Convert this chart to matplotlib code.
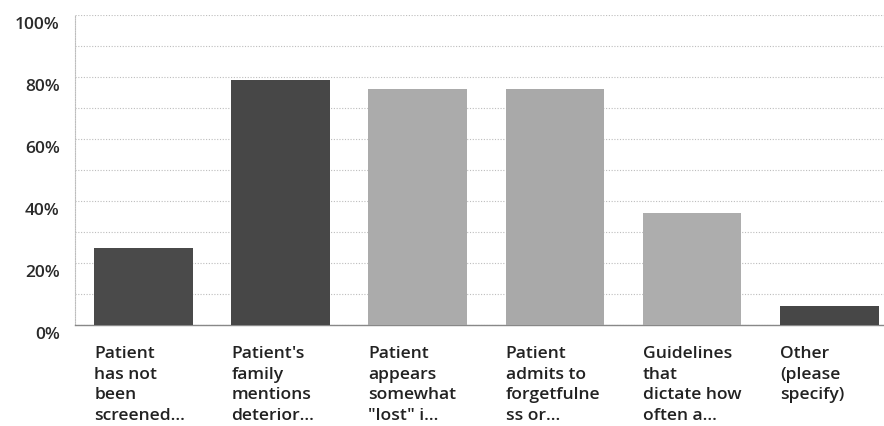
import matplotlib
matplotlib.use("Agg")
import matplotlib.pyplot as plt
import matplotlib.transforms as mtransforms
from matplotlib.ticker import MultipleLocator, PercentFormatter

categories = [
    "Patient\nhas not\nbeen\nscreened...",
    "Patient's\nfamily\nmentions\ndeterior...",
    "Patient\nappears\nsomewhat\n\"lost\" i...",
    "Patient\nadmits to\nforgetfulne\nss or...",
    "Guidelines\nthat\ndictate how\noften a...",
    "Other\n(please\nspecify)",
]
values = [25, 79, 76, 76, 36, 6]
bar_colors = ["#4a4a4a", "#474747", "#ababab", "#a9a9a9", "#adadad", "#474747"]
y_ticks = [0, 20, 40, 60, 80, 100]

plt.rcParams["font.family"] = ["Open Sans", "DejaVu Sans"]

fig = plt.figure(figsize=(8.84, 4.26), dpi=100)
ax = fig.add_axes([75 / 884, 1 - 325 / 426, 809 / 884, 310 / 426])

x = list(range(len(categories)))
ax.bar(x, values, width=0.72, color=bar_colors, zorder=3)

ax.set_xlim(-0.5, 5.4)
ax.set_ylim(0, 100)

ax.yaxis.set_minor_locator(MultipleLocator(10))
ax.set_yticks(y_ticks)
ax.yaxis.set_major_formatter(PercentFormatter(decimals=0))
ax.grid(axis="y", which="both", color="#bdbdbd", linestyle=(0, (1, 1.5)), linewidth=0.8, zorder=0)
ax.tick_params(axis="y", which="both", length=0, pad=11, labelsize=12.5, labelcolor="#2a2a2a")
for lbl in ax.get_yticklabels():
    lbl.set_fontweight("semibold")
    lbl.set_transform(lbl.get_transform() + mtransforms.ScaledTranslation(0, -8 / 100, fig.dpi_scale_trans))

ax.set_xticks([])
for i, cat in enumerate(categories):
    ax.annotate(cat, xy=(i - 0.36, 0), xycoords=("data", "data"),
                xytext=(0, -15), textcoords="offset points",
                ha="left", va="top", fontsize=12.6, fontweight="semibold",
                color="#222222", linespacing=1.4)

for side in ["top", "right"]:
    ax.spines[side].set_visible(False)
ax.spines["left"].set_color("#bdbdbd")
ax.spines["left"].set_linestyle((0, (1, 1.2)))
ax.spines["left"].set_linewidth(0.8)
ax.spines["bottom"].set_color("#888888")
ax.spines["bottom"].set_linestyle((0, (1, 1)))
ax.spines["bottom"].set_linewidth(1.0)

fig.savefig("out.png", dpi=100, facecolor="white")
